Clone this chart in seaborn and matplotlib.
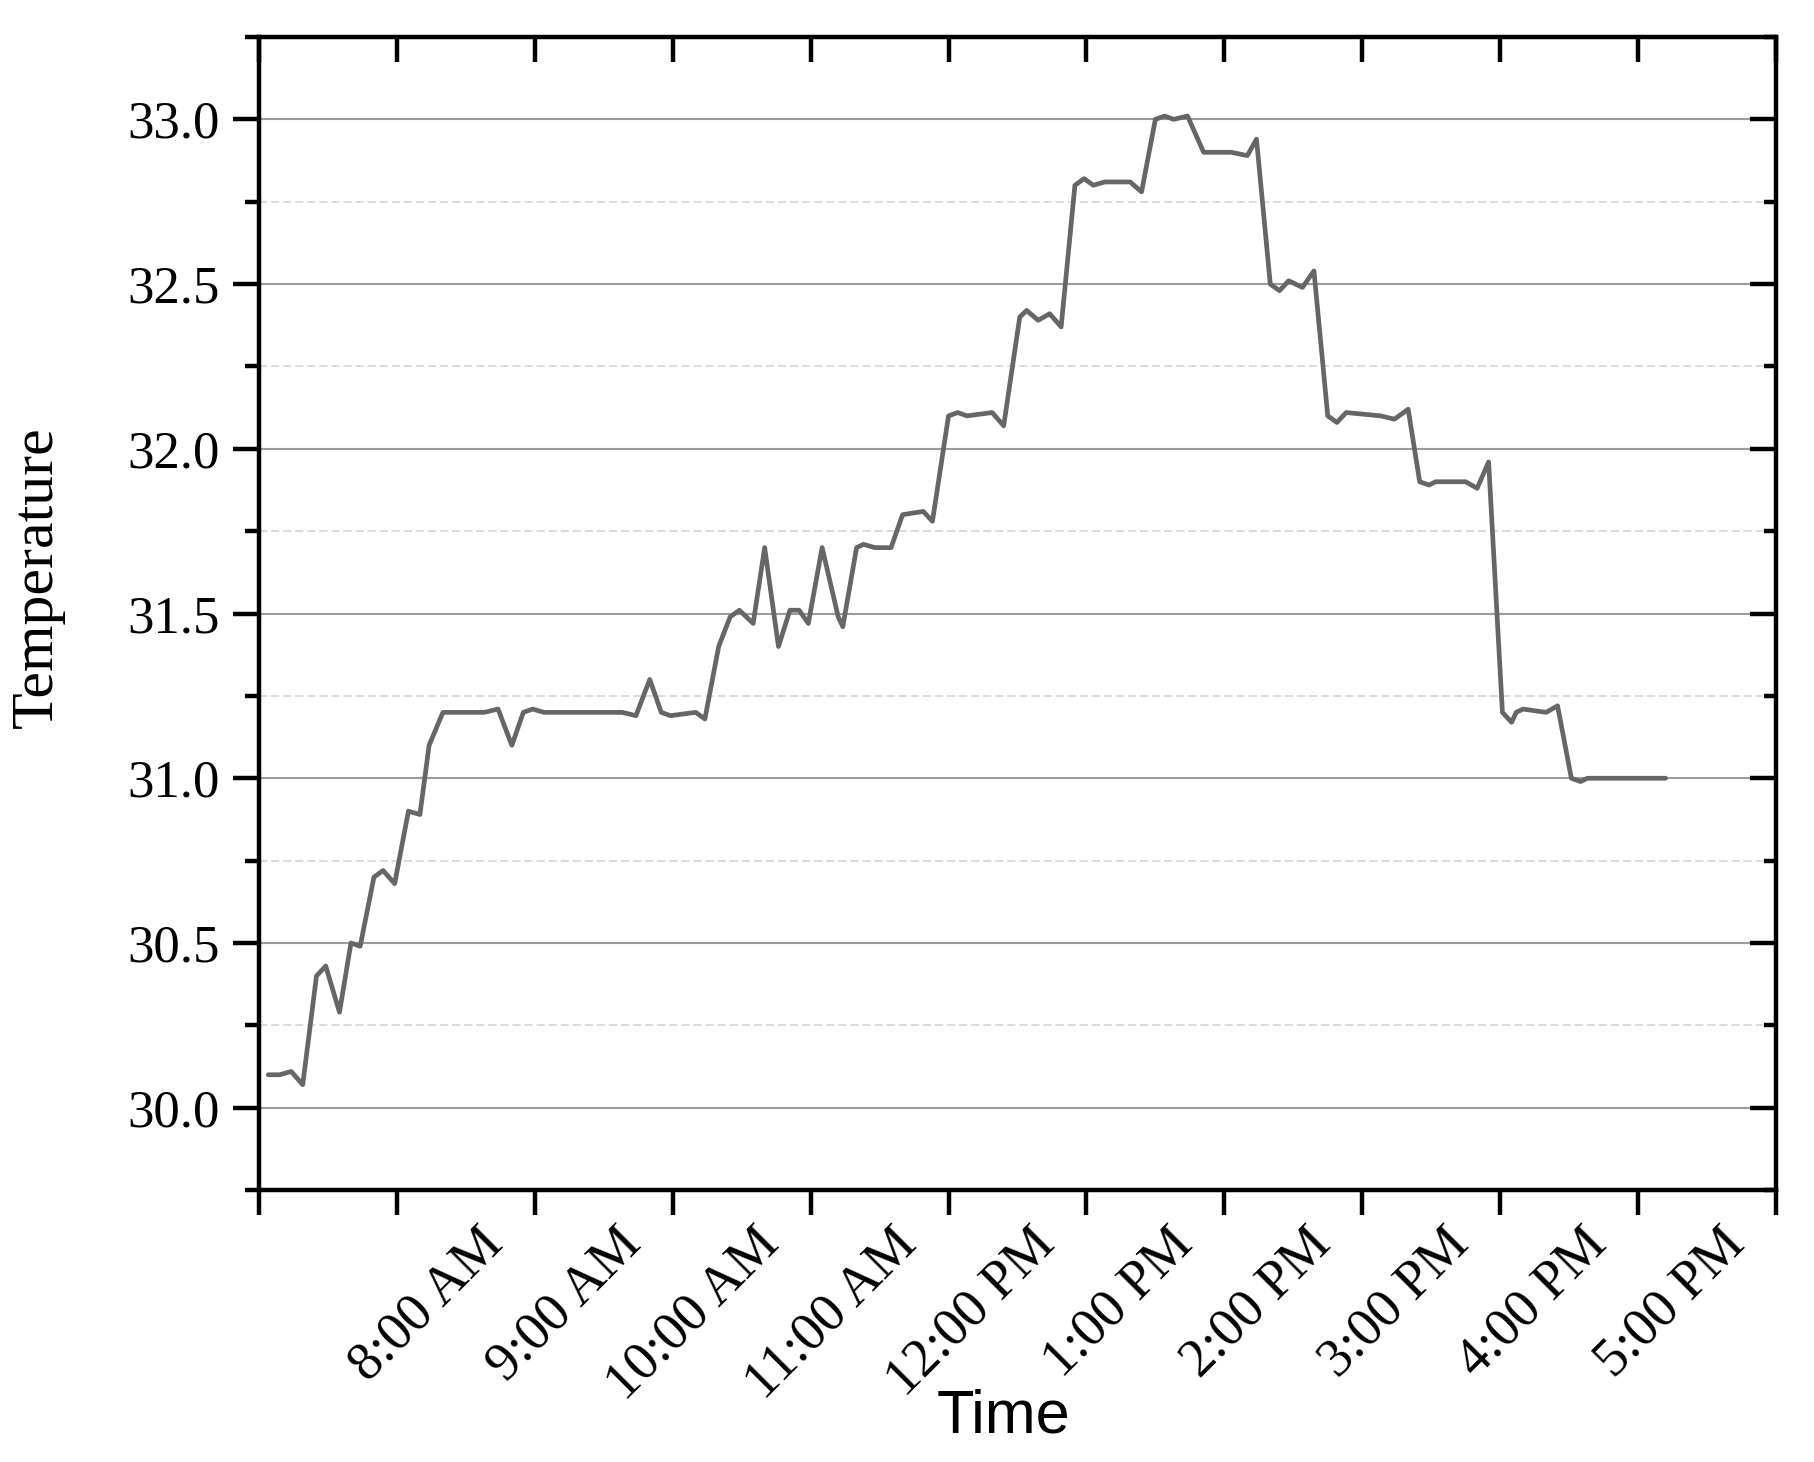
import pandas as pd
import seaborn as sns
import matplotlib.pyplot as plt
import matplotlib.dates as mdates
import matplotlib.ticker as mticker
import matplotlib.transforms as mtransforms

# readings taken off the chart (clock time, temperature)
times = [
    "07:04", "07:09", "07:14", "07:19", "07:25", "07:29", "07:35", "07:40",
    "07:44", "07:50", "07:54", "07:59", "08:05", "08:10", "08:14", "08:20",
    "08:38", "08:44", "08:50", "08:55", "08:59", "09:04", "09:38", "09:44",
    "09:50", "09:55", "09:59", "10:10", "10:14", "10:20", "10:25", "10:29",
    "10:35", "10:40", "10:46", "10:51", "10:55", "10:59", "11:05", "11:12",
    "11:14", "11:20", "11:23", "11:28", "11:35", "11:40", "11:49", "11:53",
    "12:00", "12:04", "12:08", "12:19", "12:24", "12:31", "12:34", "12:39",
    "12:44", "12:49", "12:55", "12:59", "13:03", "13:08", "13:19", "13:24",
    "13:30", "13:34", "13:38", "13:44", "13:51", "14:03", "14:10", "14:14",
    "14:20", "14:24", "14:28", "14:34", "14:39", "14:45", "14:49", "14:53",
    "15:08", "15:14", "15:20", "15:25", "15:29", "15:32", "15:45", "15:50",
    "15:55", "16:01", "16:05", "16:07", "16:10", "16:20", "16:25", "16:31",
    "16:35", "16:38", "17:12",
]
temps = [
    30.10, 30.10, 30.11, 30.07, 30.40, 30.43, 30.29, 30.50,
    30.49, 30.70, 30.72, 30.68, 30.90, 30.89, 31.10, 31.20,
    31.20, 31.21, 31.10, 31.20, 31.21, 31.20, 31.20, 31.19,
    31.30, 31.20, 31.19, 31.20, 31.18, 31.40, 31.49, 31.51,
    31.47, 31.70, 31.40, 31.51, 31.51, 31.47, 31.70, 31.49,
    31.46, 31.70, 31.71, 31.70, 31.70, 31.80, 31.81, 31.78,
    32.10, 32.11, 32.10, 32.11, 32.07, 32.40, 32.42, 32.39,
    32.41, 32.37, 32.80, 32.82, 32.80, 32.81, 32.81, 32.78,
    33.00, 33.01, 33.00, 33.01, 32.90, 32.90, 32.89, 32.94,
    32.50, 32.48, 32.51, 32.49, 32.54, 32.10, 32.08, 32.11,
    32.10, 32.09, 32.12, 31.90, 31.89, 31.90, 31.90, 31.88,
    31.96, 31.20, 31.17, 31.20, 31.21, 31.20, 31.22, 31.00,
    30.99, 31.00, 31.00,
]
day = "2021-06-01 "
x_start, x_end = day + "07:00", day + "18:00"

df = pd.DataFrame({
    "Time": pd.to_datetime([day + t for t in times]),
    "Temperature": temps,
})

sns.set_style("ticks")
plt.rcParams["font.family"] = ["Liberation Serif", "DejaVu Serif"]
plt.rcParams["text.color"] = "black"

fig = plt.figure(figsize=(18.14, 14.62), dpi=100)
ax = fig.add_axes([0.1428, 0.186, 0.8362, 0.7887])

sns.lineplot(data=df, x="Time", y="Temperature", color="#666666",
             linewidth=3.4, ax=ax)

ax.set_xlim(pd.Timestamp(x_start), pd.Timestamp(x_end))
ax.set_ylim(29.75, 33.25)

ax.xaxis.set_major_locator(mdates.HourLocator())


def hour_label(val, pos):
    d = mdates.num2date(val)
    if d.hour in (7, 18):
        return ""
    h = d.hour % 12 or 12
    return f"{h}:00 {'AM' if d.hour < 12 else 'PM'}"


ax.xaxis.set_major_formatter(mticker.FuncFormatter(hour_label))
ax.yaxis.set_major_locator(mticker.MultipleLocator(0.5))
ax.yaxis.set_minor_locator(mticker.MultipleLocator(0.25))
ax.yaxis.set_major_formatter(mticker.FormatStrFormatter("%.1f"))

ax.grid(axis="y", which="major", color="#9c9c9c", linewidth=1.5)
ax.grid(axis="y", which="minor", color="#d2d2d2", linewidth=1.1,
        linestyle=(0, (5.3, 2.6)))
ax.grid(axis="x", visible=False)

for sp in ax.spines.values():
    sp.set_visible(True)
    sp.set_linewidth(3.2)
    sp.set_color("black")

ax.tick_params(axis="x", which="major", direction="out", length=18,
               width=3.2, labelsize=39, pad=22, colors="black")
ax.tick_params(axis="y", which="major", direction="out", length=18.5,
               width=3.2, labelsize=38, pad=10, colors="black")
ax.tick_params(axis="y", which="minor", direction="out", length=10,
               width=3.2, colors="black", left=True)

ax.set_xlabel("")
ax.set_ylabel("")

# inward ticks on top and right
axt = ax.twiny()
axt.set_xlim(ax.get_xlim())
axt.set_xticks(ax.get_xticks())
axt.tick_params(axis="x", direction="in", length=18, width=3.2,
                labeltop=False, top=True, colors="black")
axr = ax.twinx()
axr.set_ylim(ax.get_ylim())
axr.yaxis.set_major_locator(mticker.MultipleLocator(0.5))
axr.yaxis.set_minor_locator(mticker.MultipleLocator(0.25))
axr.tick_params(axis="y", which="major", direction="in", length=18.5,
                width=3.2, labelright=False, right=True, colors="black")
axr.tick_params(axis="y", which="minor", direction="in", length=9,
                width=3.2, right=True, colors="black")
for a in (axt, axr):
    for sp in a.spines.values():
        sp.set_visible(False)

fig.canvas.draw()
shift = mtransforms.ScaledTranslation(1.08, 0, fig.dpi_scale_trans)
for lab in ax.get_xticklabels():
    lab.set_rotation(45)
    lab.set_rotation_mode("anchor")
    lab.set_ha("right")
    lab.set_va("baseline")
    lab.set_transform(lab.get_transform() + shift)

fig.text(0.0207, 0.605, "Temperature", rotation=90, ha="center",
         va="center", fontsize=43, color="black")
fig.text(0.553, 0.031, "Time", ha="center", va="center", fontsize=44,
         color="black", family=["Liberation Sans", "DejaVu Sans"])

fig.savefig("out.png", dpi=100)
